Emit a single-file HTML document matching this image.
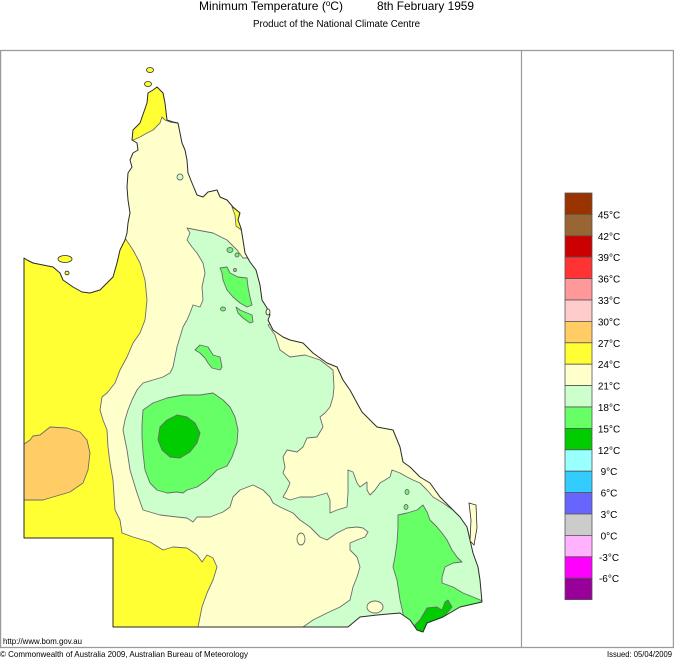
<!DOCTYPE html>
<html><head><meta charset="utf-8"><style>
html,body{margin:0;padding:0;background:#fff;}
svg{display:block;}
text{font-family:"Liberation Sans",Arial,sans-serif;fill:#000;}
</style></head><body>
<svg width="674" height="659" viewBox="0 0 674 659" xmlns="http://www.w3.org/2000/svg">
<rect x="0" y="0" width="674" height="659" fill="#fff"/>
<defs>
<clipPath id="st"><polygon points="157,87 163,93 165,103 167,120 173,122 178,123 180,133 182,143 185,150 187,160 188,173 192,183 197,195 203,197 208,192 217,190 220,197 227,200 233,207 240,213 238,220 241,228 243,240 245,253 250,262 256,270 260,285 262,300 267,308 270,315 268,320 273,330 283,337 290,340 303,343 307,347 313,353 327,363 337,367 343,380 350,390 357,403 362,412 370,420 377,427 393,430 400,447 403,462 410,467 420,477 430,483 440,497 450,507 460,517 467,527 470,540 473,553 478,567 480,580 482,602 460,607 443,617 427,623 423,632 417,630 410,620 400,613 377,615 360,617 348,627 113,627 113,538 24,538 24,258 27,260 33,263 43,265 53,267 60,273 63,280 73,287 82,292 90,293 100,290 107,283 113,277 117,263 120,250 125,240 127,233 128,223 130,213 128,200 127,187 128,173 132,167 130,160 133,153 138,150 137,143 132,140 133,130 140,123 147,103 148,93 153,90"/></clipPath>
</defs>

<!-- title -->
<text x="199" y="10" font-size="12" textLength="144" lengthAdjust="spacingAndGlyphs">Minimum Temperature (<tspan font-size="8" dy="-4">o</tspan><tspan dy="4">C)</tspan></text>
<text x="377" y="10" font-size="12" textLength="97" lengthAdjust="spacingAndGlyphs">8th February 1959</text>
<text x="253" y="27" font-size="10" textLength="167" lengthAdjust="spacingAndGlyphs">Product of the National Climate Centre</text>

<!-- frame -->
<g stroke="#9a9a9a" stroke-width="1.2" fill="none">
<line x1="0" y1="50.5" x2="674" y2="50.5"/>
<line x1="0.6" y1="50" x2="0.6" y2="648"/>
<line x1="0" y1="647.5" x2="674" y2="647.5"/>
<line x1="521.5" y1="50" x2="521.5" y2="648"/>
<line x1="673.4" y1="50" x2="673.4" y2="648"/>
</g>

<!-- map -->
<g clip-path="url(#st)">
<rect x="0" y="50" width="520" height="600" fill="#ffffcc"/>
<g stroke="#6b6b6b" stroke-width="0.9" stroke-linejoin="round">
<polygon fill="#ffff33" points="0,250 125,238 133,250 140,263 145,280 147,300 145,320 140,333 133,343 127,357 120,370 115,383 107,393 102,397 100,410 103,420 107,430 108,447 110,463 113,480 115,510 120,520 122,533 133,537 150,542 163,550 173,547 187,548 197,555 202,562 207,555 213,558 217,567 213,580 207,593 202,607 200,617 198,627 198,640 0,640"/>
<polygon fill="#ffff33" points="120,135 133,140 140,137 147,133 153,130 160,123 162,117 165,120 170,122 177,123 185,110 170,70 120,70"/>
<polygon fill="#ffff33" points="232,207 240,212 238,220 241,228 244,232 236,226 235,215"/>
<polygon fill="#ffcc66" points="20,447 30,440 33,436 40,435 50,427 67,428 80,432 87,440 90,453 88,470 83,483 70,492 53,497 43,500 20,500"/>
<polygon fill="#ccffcc" points="187,228 197,230 213,233 227,240 237,250 243,258 290,258 290,318 268,325 275,335 280,350 290,357 305,355 320,360 333,370 334,387 333,397 330,407 325,413 320,417 323,427 317,437 307,438 303,447 297,452 287,450 283,457 285,467 283,473 290,483 287,490 283,497 290,500 300,497 313,497 327,493 330,500 330,513 337,510 347,507 348,493 348,470 353,472 357,483 360,487 367,482 367,490 370,495 375,490 380,483 390,477 392,470 400,473 407,477 413,480 420,483 427,490 433,497 443,503 453,510 460,513 467,520 470,533 480,540 500,540 500,650 303,650 303,627 313,620 327,613 340,607 350,600 353,587 357,577 360,567 357,557 350,550 350,543 357,540 365,537 368,532 363,528 357,527 347,528 337,533 327,540 320,537 310,527 300,520 293,513 280,507 273,503 270,497 263,490 253,485 240,490 233,497 230,507 223,512 210,517 197,517 193,522 187,518 177,517 160,515 143,510 137,493 130,470 127,450 123,430 125,420 128,410 132,400 137,390 143,383 153,380 163,377 170,373 173,367 175,357 177,347 180,337 183,327 187,320 190,313 193,305 200,307 203,300 202,287 205,273 203,263 197,253 192,247 187,240 190,233"/>
<ellipse cx="180" cy="177" rx="3" ry="3" fill="#ccffcc"/>
<ellipse cx="301" cy="539" rx="4" ry="6" fill="#ffffcc"/>
<ellipse cx="375" cy="607" rx="8" ry="6" fill="#ffffcc"/>
<polygon fill="#66ff66" points="143,410 153,403 167,398 183,395 200,395 213,393 223,400 230,407 235,417 238,430 237,443 232,457 227,466 217,470 207,480 197,487 187,490 183,493 177,492 167,493 157,490 150,483 145,470 143,453 142,437 142,425"/>
<polygon fill="#00cc00" points="160,427 167,420 177,415 187,417 195,423 200,433 197,443 190,452 180,458 170,457 162,450 158,440"/>
<polygon fill="#66ff66" points="220,268 227,267 230,273 238,277 247,278 248,287 250,297 252,305 247,307 240,303 233,297 227,290 223,280 222,273"/>
<polygon fill="#66ff66" points="236,307 240,310 247,313 252,315 253,322 250,323 243,318 238,313"/>
<polygon fill="#66ff66" points="195,350 200,345 208,347 213,355 220,357 222,367 220,370 212,368 208,363 205,358 200,353"/>
<ellipse cx="230" cy="250" rx="3" ry="2.5" fill="#66ff66"/>
<ellipse cx="237" cy="255" rx="2" ry="2" fill="#66ff66"/>
<ellipse cx="235" cy="270" rx="1.5" ry="1.5" fill="#66ff66"/>
<ellipse cx="223" cy="309" rx="2.5" ry="2" fill="#66ff66"/>
<ellipse cx="407" cy="492" rx="2" ry="2.5" fill="#66ff66"/>
<ellipse cx="406" cy="507" rx="2" ry="2.5" fill="#66ff66"/>
<polygon fill="#66ff66" points="398,515 407,513 417,510 423,505 427,512 430,520 437,527 442,533 447,540 452,550 457,557 462,562 453,563 445,567 442,577 442,583 453,587 463,593 473,597 485,602 485,645 400,645 403,613 400,600 397,580 393,567 395,557 397,543 398,527"/>
<polygon fill="#00cc00" points="420,620 427,608 437,607 442,610 445,602 448,600 452,607 447,613 443,618 443,640 418,640 415,625"/>
</g>
</g>
<!-- state outline -->
<polygon fill="none" stroke="#2a2a2a" stroke-width="1" stroke-linejoin="round" points="157,87 163,93 165,103 167,120 173,122 178,123 180,133 182,143 185,150 187,160 188,173 192,183 197,195 203,197 208,192 217,190 220,197 227,200 233,207 240,213 238,220 241,228 243,240 245,253 250,262 256,270 260,285 262,300 267,308 270,315 268,320 273,330 283,337 290,340 303,343 307,347 313,353 327,363 337,367 343,380 350,390 357,403 362,412 370,420 377,427 393,430 400,447 403,462 410,467 420,477 430,483 440,497 450,507 460,517 467,527 470,540 473,553 478,567 480,580 482,602 460,607 443,617 427,623 423,632 417,630 410,620 400,613 377,615 360,617 348,627 113,627 113,538 24,538 24,258 27,260 33,263 43,265 53,267 60,273 63,280 73,287 82,292 90,293 100,290 107,283 113,277 117,263 120,250 125,240 127,233 128,223 130,213 128,200 127,187 128,173 132,167 130,160 133,153 138,150 137,143 132,140 133,130 140,123 147,103 148,93 153,90"/>
<!-- islands -->
<g stroke="#2a2a2a" stroke-width="0.8">
<ellipse cx="65" cy="259" rx="7" ry="3.5" fill="#ffff33"/>
<ellipse cx="67" cy="273" rx="2" ry="1.8" fill="#ffff33"/>
<ellipse cx="150" cy="70" rx="3.5" ry="2.5" fill="#ffff33"/>
<ellipse cx="148" cy="84" rx="3.5" ry="2.5" fill="#ffff33"/>
<ellipse cx="268" cy="312" rx="2" ry="3" fill="#ffffcc"/>
<polygon points="469,503 476,505 477,528 474,545 470,541 471,520" fill="#ffffcc"/>
</g>

<!-- legend -->
<g stroke="#555" stroke-width="0.8">
<rect x="565" y="193.0" width="27" height="21.4" fill="#993300"/>
<rect x="565" y="214.4" width="27" height="21.4" fill="#996633"/>
<rect x="565" y="235.8" width="27" height="21.4" fill="#cc0000"/>
<rect x="565" y="257.2" width="27" height="21.4" fill="#ff3333"/>
<rect x="565" y="278.6" width="27" height="21.4" fill="#ff9999"/>
<rect x="565" y="300.0" width="27" height="21.4" fill="#ffcccc"/>
<rect x="565" y="321.4" width="27" height="21.4" fill="#ffcc66"/>
<rect x="565" y="342.8" width="27" height="21.4" fill="#ffff33"/>
<rect x="565" y="364.2" width="27" height="21.4" fill="#ffffcc"/>
<rect x="565" y="385.6" width="27" height="21.4" fill="#ccffcc"/>
<rect x="565" y="407.0" width="27" height="21.4" fill="#66ff66"/>
<rect x="565" y="428.4" width="27" height="21.4" fill="#00cc00"/>
<rect x="565" y="449.8" width="27" height="21.4" fill="#99ffff"/>
<rect x="565" y="471.2" width="27" height="21.4" fill="#33ccff"/>
<rect x="565" y="492.6" width="27" height="21.4" fill="#6666ff"/>
<rect x="565" y="514.0" width="27" height="21.4" fill="#cccccc"/>
<rect x="565" y="535.4" width="27" height="21.4" fill="#ffb3ff"/>
<rect x="565" y="556.8" width="27" height="21.4" fill="#ff00ff"/>
<rect x="565" y="578.2" width="27" height="21.4" fill="#990099"/>
</g>
<g font-size="10" text-anchor="middle">
<text x="609" y="218.4">45°C</text>
<text x="609" y="239.8">42°C</text>
<text x="609" y="261.2">39°C</text>
<text x="609" y="282.6">36°C</text>
<text x="609" y="304.0">33°C</text>
<text x="609" y="325.4">30°C</text>
<text x="609" y="346.8">27°C</text>
<text x="609" y="368.2">24°C</text>
<text x="609" y="389.6">21°C</text>
<text x="609" y="411.0">18°C</text>
<text x="609" y="432.4">15°C</text>
<text x="609" y="453.8">12°C</text>
<text x="609" y="475.2">9°C</text>
<text x="609" y="496.6">6°C</text>
<text x="609" y="518.0">3°C</text>
<text x="609" y="539.4">0°C</text>
<text x="609" y="560.8">-3°C</text>
<text x="609" y="582.2">-6°C</text>
</g>

<!-- footer -->
<text x="3" y="644" font-size="8.5" textLength="79" lengthAdjust="spacingAndGlyphs">http://www.bom.gov.au</text>
<text x="0" y="657" font-size="8.5" textLength="248" lengthAdjust="spacingAndGlyphs">© Commonwealth of Australia 2009, Australian Bureau of Meteorology</text>
<text x="607" y="657" font-size="8.5" textLength="65" lengthAdjust="spacingAndGlyphs">Issued: 05/04/2009</text>
</svg>
</body></html>
